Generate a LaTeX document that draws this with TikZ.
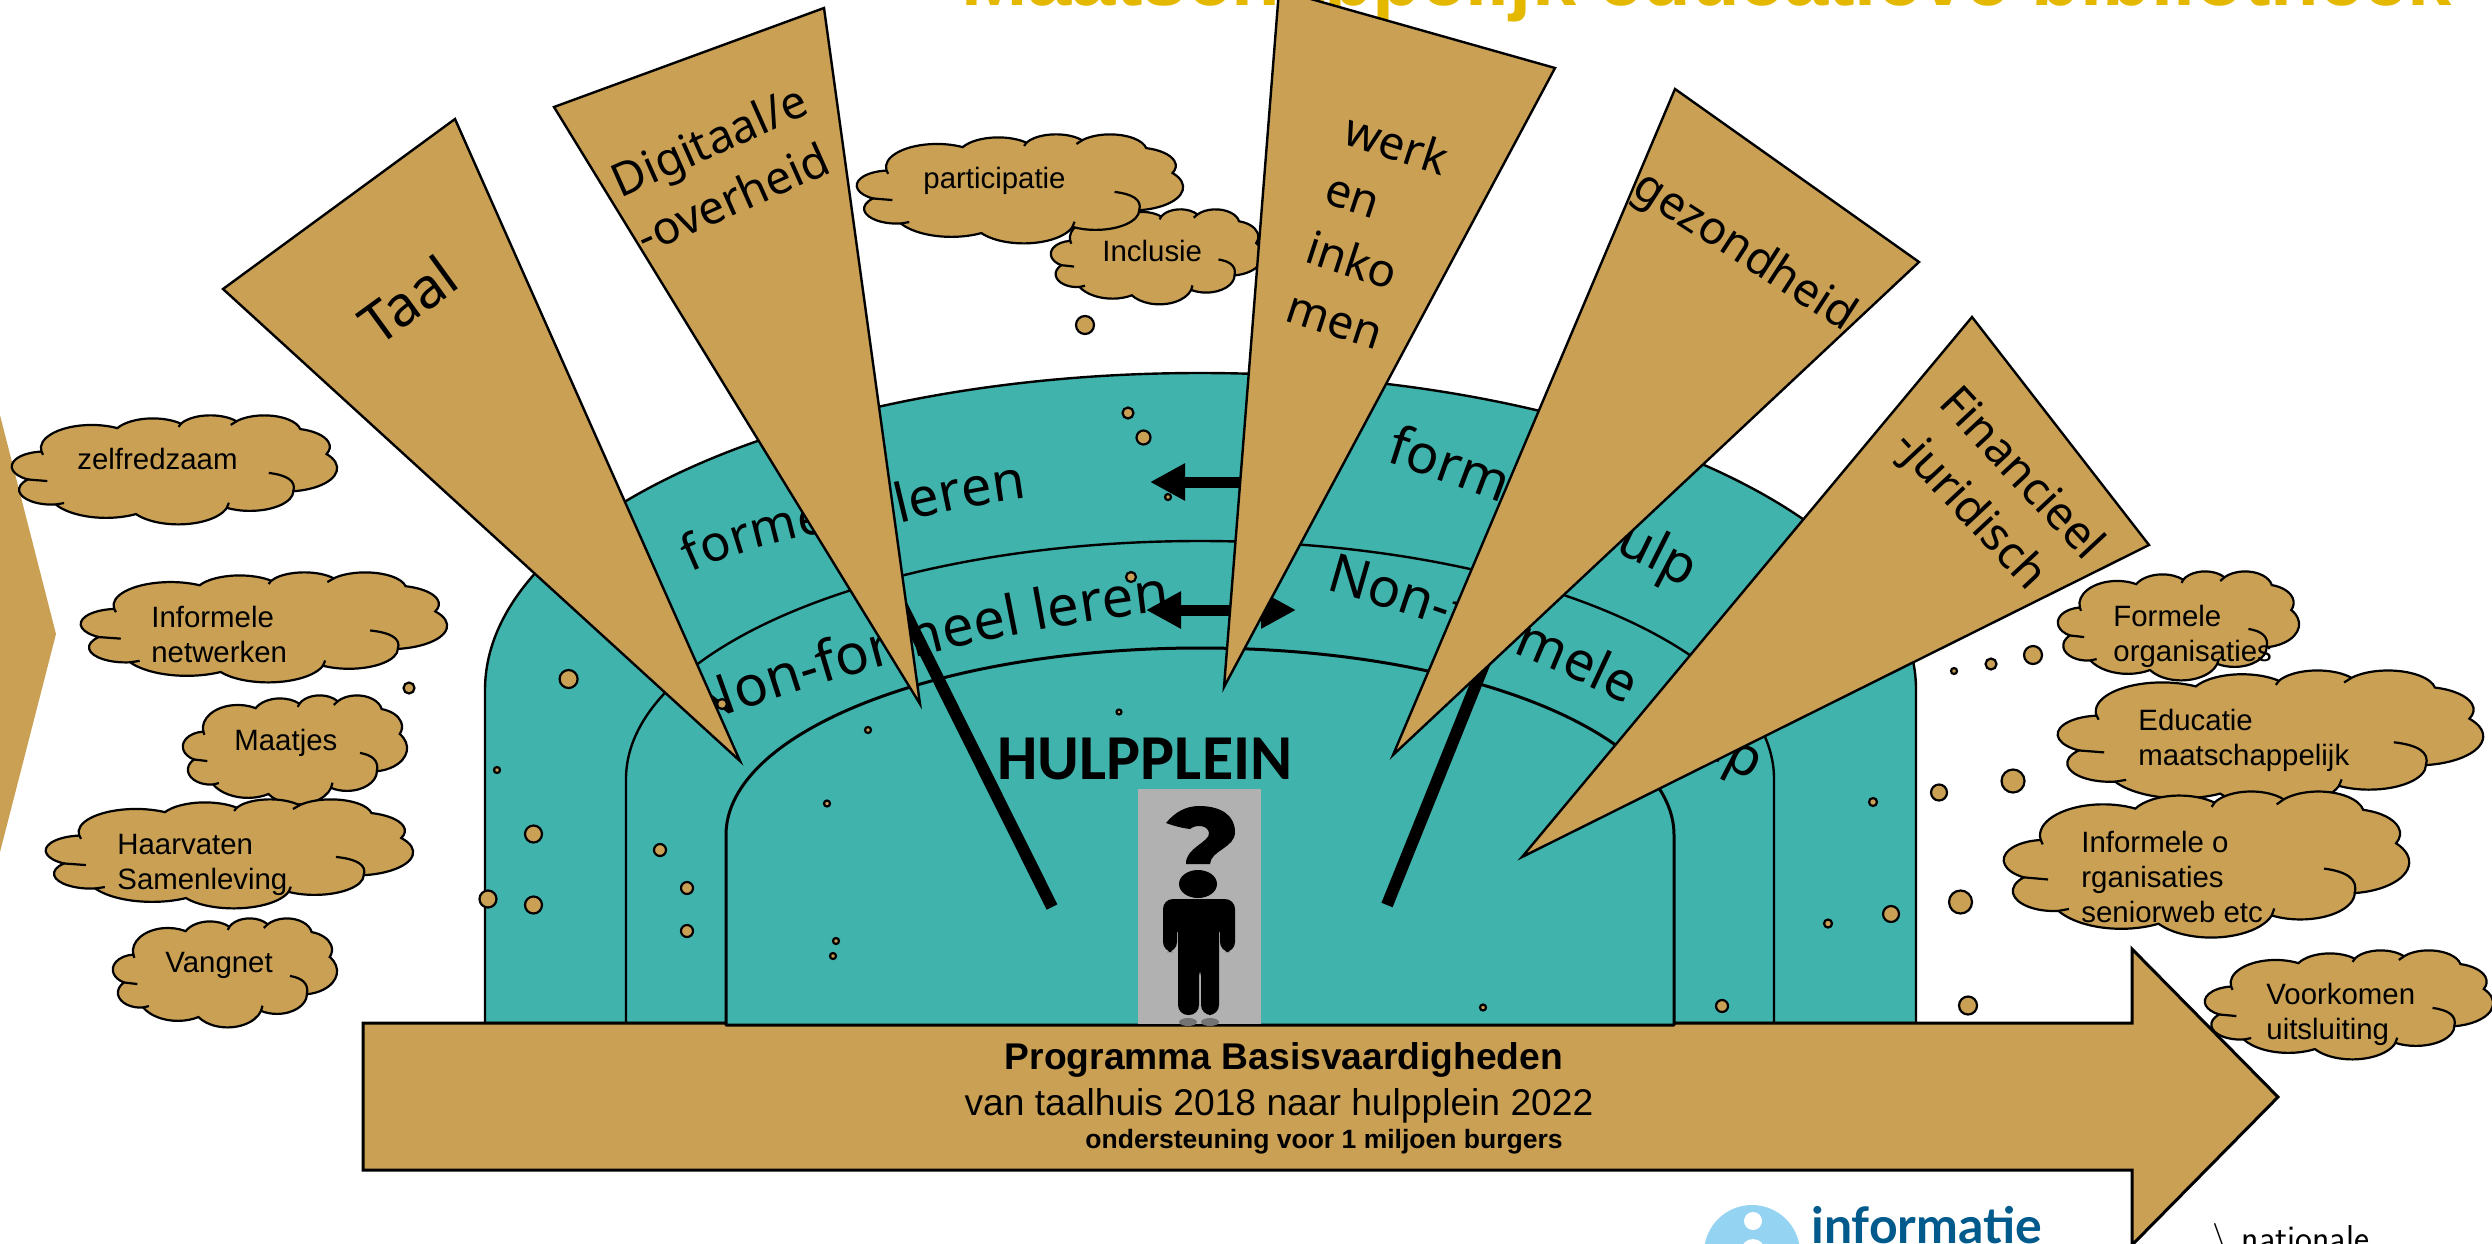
\documentclass[tikz,border=0pt]{standalone}
\usepackage{fontspec}
\setmainfont{Liberation Sans}
\newfontfamily\notof{Noto Sans}
\newfontfamily\carlitof{Carlito}
\newfontfamily\latof{Lato}
\usetikzlibrary{arrows.meta,decorations.text}
\definecolor{tan}{RGB}{201,160,84}
\definecolor{teal2}{RGB}{64,179,173}
\definecolor{titlegold}{RGB}{229,184,0}
\definecolor{logoblue}{RGB}{0,90,140}
\definecolor{logosky}{RGB}{149,211,243}
\definecolor{greybox}{RGB}{177,177,177}
\tikzset{
 arch/.style={draw=black,fill=teal2,line width=1.2pt,line join=round},
 wedge/.style={draw=black,fill=tan,line width=1.2pt,line join=miter},
 cloudline/.style={draw=black,line width=1.1pt},
 cloudtxt/.style={anchor=base west,inner sep=0pt,font=\fontsize{14.7pt}{17.5pt}\selectfont,align=left},
 wedgetxt/.style={inner sep=0pt,align=left,font=\notof\fontsize{23pt}{31pt}\selectfont},
 bubble/.style={draw=black,fill=tan,line width=1.1pt},
 fat/.style={draw=black,line width=6pt},
 blockarrow/.style={draw=black,line width=5.5pt,-{Triangle[length=17.5pt,width=17.5pt]}},
 blockboth/.style={draw=black,line width=5.5pt,{Triangle[length=17.5pt,width=17.5pt]}-{Triangle[length=17.5pt,width=17.5pt]}},
}
% preset cloud geometry: parametric angles of its eleven lobes
\newcommand{\defarc}[5]{%
 \pgfmathsetmacro\ta{atan2(#2*sin(#4),#3*cos(#4))}%
 \pgfmathsetmacro\tb{atan2(#2*sin(#4+#5),#3*cos(#4+#5))}%
 \pgfmathsetmacro\td{\tb-\ta}%
 \pgfmathparse{\td<0?\td+360:\td}\let\td\pgfmathresult
 \expandafter\xdef\csname arcS#1\endcsname{\ta}%
 \expandafter\xdef\csname arcD#1\endcsname{\td}%
 \expandafter\xdef\csname arcW#1\endcsname{#2}%
 \expandafter\xdef\csname arcH#1\endcsname{#3}}
\defarc{1}{67.53}{91.90}{-190.487}{123.780}
\defarc{2}{53.33}{72.67}{-144.102}{89.945}
\defarc{3}{43.65}{59.45}{-145.808}{99.723}
\defarc{4}{48.57}{65.95}{-130.986}{117.242}
\defarc{5}{53.33}{72.73}{-78.709}{109.027}
\defarc{6}{67.75}{92.20}{-46.267}{130.269}
\defarc{7}{57.85}{78.67}{0.625}{114.033}
\defarc{8}{67.52}{92.15}{22.452}{115.173}
\defarc{9}{77.20}{105.43}{66.243}{75.711}
\defarc{10}{43.60}{59.18}{-274.942}{146.736}
\defarc{11}{43.45}{59.45}{-246.829}{152.519}
\newcommand{\lobe}[1]{arc[start angle=\csname arcS#1\endcsname,delta angle=\csname arcD#1\endcsname,x radius=\csname arcW#1\endcsname,y radius=\csname arcH#1\endcsname] coordinate (c#1)}
\newcommand{\cloudshape}[4]{%
 \pgfmathsetmacro\cw{(#3-#1)*0.5/432}%
 \pgfmathsetmacro\ch{(#4-#2)*0.5/432}%
 \begin{scope}[shift={(#1,#2)}]
 \begin{scope}[x=\cw pt,y=-\ch pt]
 \path[cloudline,fill=tan] (39,143.7) coordinate (c0) \lobe{1} \lobe{2} \lobe{3} \lobe{4} \lobe{5} \lobe{6} \lobe{7} \lobe{8} \lobe{9} \lobe{10} \lobe{11} -- cycle;
 \draw[cloudline] (140,51.92) -- (c1);
 \draw[cloudline] (221.41,47.2) -- (c2);
 \draw[cloudline] (290.78,39.52) -- (c3);
 \draw[cloudline] (383.24,54.26) -- (c4);
 \draw[cloudline] (417.98,153.54) -- (c5);
 \draw[cloudline] (341.29,229.54) .. controls (365,238) and (378,260) .. (c6);
 \draw[cloudline] (288.27,347.51) -- (c7);
 \draw[cloudline] (164.78,390.9) -- (c8);
 \draw[cloudline] (69.28,348.99) -- (c9);
 \draw[cloudline] (46.93,261.77) -- (c10);
 \draw[cloudline] (41.27,157.89) -- (c0);
 \end{scope}
 \end{scope}}
\begin{document}
\begin{tikzpicture}[x=0.5pt,y=-0.5pt]
\useasboundingbox (0,0) rectangle (2492,1243);
\clip (0,0) rectangle (2492,1243);
% title
\node[anchor=base west,inner sep=0pt,text=titlegold,font=\bfseries\fontsize{39.8pt}{44pt}\selectfont] (title) at (961,5) {Maatschappelijk educatieve bibliotheek};
% left partial arrow head
\fill[tan] (-20,337) -- (56,634) -- (-20,930) -- cycle;
% layered arches
\path[arch] (485,1023) -- (485,690) .. controls (485,515) and (805,373) .. (1200,373) .. controls (1595,373) and (1916,515) .. (1916,690) -- (1916,1023) -- cycle;
\path[arch] (626,1023) -- (626,779) .. controls (626,648) and (883,541) .. (1200,541) .. controls (1517,541) and (1774,648) .. (1774,779) -- (1774,1023) -- cycle;
% main arrow
\path[wedge,line width=1.5pt] (363,1023) -- (2132,1023) -- (2132,949) -- (2278,1097) -- (2132,1245) -- (2132,1170) -- (363,1170) -- cycle;
\path[arch,line width=1.5pt] (726,1025) -- (726,835) .. controls (726,732) and (938,648) .. (1200,648) .. controls (1462,648) and (1674,732) .. (1674,835) -- (1674,1025) -- cycle;
% arched texts
\path[decorate,decoration={text along path,text align={left},text={|\notof\fontsize{25pt}{25pt}\selectfont|formeel}}] (691,573) .. controls (730,555) and (790,535) .. (880,525);
\path[decorate,decoration={text along path,text align={left},text={|\notof\fontsize{27pt}{27pt}\selectfont|leren}}] (899,523) .. controls (940,513) and (985,503) .. (1035,497);
\path[decorate,decoration={text along path,text align={left},text={|\notof\fontsize{28pt}{28pt}\selectfont|Non-formeel leren}}] (700,725) .. controls (850,670) and (1000,630) .. (1175,610);
\path[decorate,decoration={text along path,text align={left},text={|\notof\fontsize{27pt}{27pt}\selectfont|formele hulp}}] (1385,462) .. controls (1490,495) and (1600,540) .. (1700,595);
\path[decorate,decoration={text along path,text align={left},text={|\notof\fontsize{27pt}{27pt}\selectfont|Non-formele}}] (1325,590) .. controls (1470,630) and (1620,690) .. (1770,785);
\path[decorate,decoration={text along path,text align={left},text={|\notof\fontsize{27pt}{27pt}\selectfont|hulp}}] (1651,728) -- (1790,800);
% hulpplein
\node[inner sep=0pt,anchor=base,font=\carlitof\bfseries\fontsize{32pt}{32pt}\selectfont] (hulp) at (1145,779) {HULPPLEIN};
% person picture
\fill[greybox] (1138,789) rectangle (1261,1024);
\fill[black!35!greybox] (1188,1022) ellipse[x radius=9,y radius=4];
\fill[black!35!greybox] (1210,1022) ellipse[x radius=9,y radius=4];
\fill[black] (1166,823) .. controls (1175,812) and (1186,806) .. (1199,806) .. controls (1222,806) and (1235,816) .. (1235,832) .. controls (1235,848) and (1211,850) .. (1210,864) -- (1186,864) .. controls (1185,848) and (1210,842) .. (1209,833) .. controls (1208,825) and (1196,824) .. (1190,829) .. controls (1182,828) and (1174,826) .. (1166,823) -- cycle;
\fill[black] (1198,884) ellipse[x radius=19,y radius=14];
\fill[black,rounded corners=5pt] (1163,899) -- (1235,899) -- (1235,952) -- (1220,952) -- (1220,923) -- (1219,923) -- (1219,1015) -- (1201,1015) -- (1201,966) -- (1199,966) -- (1199,1015) -- (1178,1015) -- (1178,923) -- (1177,923) -- (1177,952) -- (1163,952) -- cycle;
% black connectors
\coordinate (la) at (879,560);
\coordinate (lb) at (1052,907);
\coordinate (ra) at (1510,600);
\coordinate (rb) at (1387,905);
\coordinate (a1s) at (1300,482);
\coordinate (a1e) at (1150,482);
\coordinate (a2s) at (1146,610);
\coordinate (a2e) at (1296,610);
\draw[fat] (la) -- (lb);
\draw[fat] (ra) -- (rb);
\draw[blockarrow] (a1s) -- (a1e);
\draw[blockboth] (a2s) -- (a2e);
% Inclusie cloud under the wedges
\cloudshape{1051}{209}{1263}{304}
\node[cloudtxt] (inclusie) at (1102,261) {Inclusie};
% wedges
\path[wedge] (455,119) -- (223,289) -- (740,761) -- cycle;
\path[wedge] (824,8) -- (554,107) -- (920,704) -- cycle;
\path[wedge] (1279,-10) -- (1555,68) -- (1224,687) -- cycle;
\path[wedge] (1675,89) -- (1919,262) -- (1393,755) -- cycle;
\path[wedge] (1972,317) -- (2149,545) -- (1522,857) -- cycle;
\node[wedgetxt,font=\notof\fontsize{28pt}{30pt}\selectfont,rotate=36] (taal) at (408,300) {Taal};
\node[wedgetxt,rotate=24,anchor=north west] (digi) at (606,166) {Digitaal/e\\-overheid};
\node[wedgetxt,rotate=-18,anchor=north west] (werk) at (1352,110) {werk\\en\\inko\\men};
\node[wedgetxt,rotate=-33] (gez) at (1744,253) {gezondheid};
\node[wedgetxt,rotate=-47,anchor=north west] (fin) at (1963,380) {Financieel\\-juridisch};
% small bubbles
\foreach \bx/\by/\br in {1085/325/9,1128/413/5.5,1143.5/437.5/7,1168/497/3,1131/577/5,568.6/679/9,409/688/5.5,722/704/5,497/770/3,868/730/3,1119/712/2.5,827/803.5/3,533.5/834/8.5,660/850/6,687/888/6,488/899/8.5,533.5/905/8.5,687/931/6,836/941/3,833/956/3,1954/671/3,1991/664/5.5,2033/655/9,1939/792.5/8,2013/781/11.5,1873/802/4,1960.5/902/11.5,1891/914/8,1828/923.5/4,1968/1005.5/9,1722/1006/6,1483/1007.5/3}
 \path[bubble] (\bx,\by) circle[radius=\br];
% clouds
\cloudshape{857}{134}{1183}{243}
\node[cloudtxt] (part) at (923,188) {participatie};
\cloudshape{12}{415}{337}{524}
\node[cloudtxt] (zelf) at (77,469) {zelfredzaam};
\cloudshape{81}{572}{447}{682}
\node[cloudtxt] (netw) at (151,662) {Informele\\netwerken};
\cloudshape{183}{695}{407}{804}
\node[cloudtxt] (maat) at (234,750) {Maatjes};
\cloudshape{46}{799}{413}{908}
\node[cloudtxt] (haar) at (117,889) {Haarvaten\\Samenleving};
\cloudshape{113}{918}{337}{1027}
\node[cloudtxt] (vang) at (165,972) {Vangnet};
\cloudshape{2058}{571}{2299}{680}
\node[cloudtxt] (form) at (2113,661.5) {Formele\\organisaties};
\cloudshape{2058}{670}{2483}{806}
\node[cloudtxt] (edu) at (2138,765) {Educatie\\maatschappelijk};
\cloudshape{2004}{791}{2409}{937}
\node[cloudtxt] (inf) at (2081,922) {Informele o\\rganisaties\\seniorweb etc};
\cloudshape{2205}{950}{2493}{1059}
\node[cloudtxt] (voor) at (2266,1039) {Voorkomen\\uitsluiting};
% arrow texts
\node[anchor=base,inner sep=0pt,font=\bfseries\fontsize{18.6pt}{20pt}\selectfont] (prog) at (1284,1069) {Programma Basisvaardigheden};
\node[anchor=base,inner sep=0pt,font=\fontsize{18.6pt}{20pt}\selectfont] (van) at (1279,1115) {van taalhuis 2018 naar hulpplein 2022};
\node[anchor=base,inner sep=0pt,font=\bfseries\fontsize{13.25pt}{15pt}\selectfont] (onder) at (1324,1148.5) {ondersteuning voor 1 miljoen burgers};
% logo
\fill[logosky] (1752,1253) circle[radius=48];
\fill[white] (1753,1221) circle[radius=9];
\fill[white] (1753,1251) circle[radius=12];
\node[anchor=base west,inner sep=0pt,text=logoblue,font=\latof\bfseries\fontsize{25pt}{25pt}\selectfont] (logo) at (1811,1243) {informatie};
\node[anchor=base west,inner sep=0pt,font=\sffamily\fontsize{18pt}{18pt}\selectfont] (nat) at (2212,1250) {\textbackslash\ nationale};
\end{tikzpicture}
\end{document}
